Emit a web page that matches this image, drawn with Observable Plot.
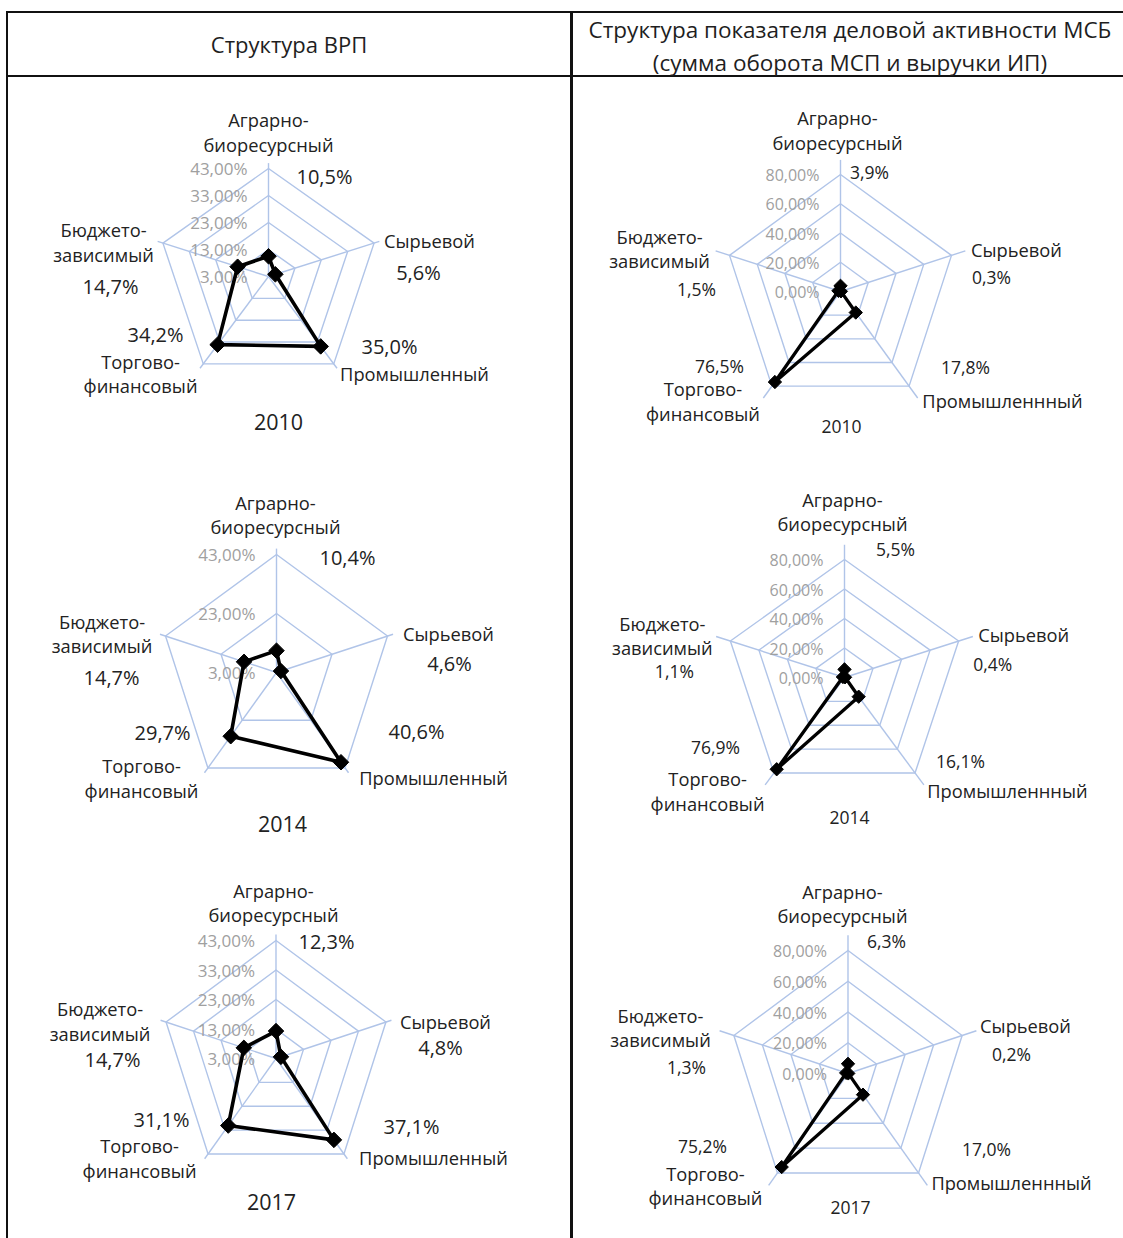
<!DOCTYPE html>
<html>
<head>
<meta charset="utf-8">
<script src="https://cdn.jsdelivr.net/npm/d3@7"></script>
<script src="https://cdn.jsdelivr.net/npm/@observablehq/plot@0.6"></script>
<style>
  html, body { margin: 0; padding: 0; background: #fff; }
  #page { position: relative; width: 1123px; height: 1238px; overflow: hidden; background: #fff; font-family: "Open Sans", sans-serif; color: #222; }
  .rule { position: absolute; background: #111; }
  .hdr { position: absolute; text-align: center; line-height: 33px; color: #1e1e1e; }
  .cell { position: absolute; }
</style>
</head>
<body>
<div id="page"></div>
<script>
// ---------- data ----------
const categoriesGRP = ["Аграрно-\nбиоресурсный", "Сырьевой", "Промышленный", "Торгово-\nфинансовый", "Бюджето-\nзависимый"];
const categoriesMSB = ["Аграрно-\nбиоресурсный", "Сырьевой", "Промышленнный", "Торгово-\nфинансовый", "Бюджето-\nзависимый"];
const years = [2010, 2014, 2017];

const grp2010 = [10.5, 5.6, 35.0, 34.2, 14.7];
const grp2014 = [10.4, 4.6, 40.6, 29.7, 14.7];
const grp2017 = [12.3, 4.8, 37.1, 31.1, 14.7];

const msb2010 = [3.9, 0.3, 17.8, 76.5, 1.5];
const msb2014 = [5.5, 0.4, 16.1, 76.9, 1.1];
const msb2017 = [6.3, 0.2, 17.0, 75.2, 1.3];

const grpTicks2010 = [3, 13, 23, 33, 43];
const grpTicks2014 = [3, 23, 43];
const grpTicks2017 = [3, 13, 23, 33, 43];
const msbTicks = [0, 20, 40, 60, 80];
const grpAxisMax = 45;
const msbAxisMax = 90;

const titleGRP = "Структура ВРП";
const titleMSB = ["Структура показателя деловой активности МСБ", "(сумма оборота МСП и выручки ИП)"];

// ---------- layout (page pixels) ----------
const page = document.getElementById("page");
function rule(x, y, w, h) {
  const d = document.createElement("div");
  d.className = "rule";
  Object.assign(d.style, {left: x + "px", top: y + "px", width: w + "px", height: h + "px"});
  page.appendChild(d);
}
rule(6, 11, 1125, 2);      // top border
rule(6, 75, 1125, 2);      // header bottom
rule(6, 11, 2, 1240);      // left border
rule(570, 11, 2.5, 1240);  // column divider

function header(lines, x, w, top, size) {
  const d = document.createElement("div");
  d.className = "hdr";
  Object.assign(d.style, {left: x + "px", width: w + "px", top: top + "px", fontSize: size + "px"});
  d.innerHTML = lines.map(s => `<div>${s}</div>`).join("");
  page.appendChild(d);
}
header([titleGRP], 8, 562, 28, 22);
header(titleMSB, 572, 556, 13, 22.5);

const fmtVal = v => v.toFixed(1).replace(".", ",") + "%";
const fmtTick = v => v.toFixed(2).replace(".", ",") + "%";

const angles = [0, 72, 144, 216, 288].map(a => a * Math.PI / 180);

const charts = [
  {values: grp2010, cats: categoriesGRP, ticks: grpTicks2010, axisMax: grpAxisMax, year: years[0],
   box: [8, 78, 562, 392], cx: 268, cy: 276, rx: 111, ry: 108,
   catOff: [[0,-37],[55.4,-2.6],[80.7,9.6],[-62.7,9.1],[-59.4,-1.6]],
   valOff: [[56,9],[44.4,30.4],[55.7,-16.4],[-47.7,-28.4],[-52.4,44.4]],
   yearOff: [10,147], big: true},
  {values: grp2014, cats: categoriesGRP, ticks: grpTicks2014, axisMax: grpAxisMax, year: years[1],
   box: [8, 470, 562, 392], cx: 276, cy: 672, rx: 116.7, ry: 118,
   catOff: [[-1,-40.5],[61,-3.5],[88.4,9.5],[-66.4,9.5],[-63.5,-3]],
   valOff: [[71,4],[62,28.5],[71.4,-35.5],[-45.4,-34.5],[-54,42.5]],
   yearOff: [6,153], big: true},
  {values: grp2017, cats: categoriesGRP, ticks: grpTicks2017, axisMax: grpAxisMax, year: years[2],
   box: [8, 862, 562, 376], cx: 275.5, cy: 1058, rx: 115.6, ry: 118,
   catOff: [[-2.5,-38.5],[59.6,-1.5],[89.5,3.5],[-68.5,4],[-66,-1.5]],
   valOff: [[50.5,2],[54.6,26.5],[67.5,-26.5],[-46.5,-33.5],[-53.6,38.5]],
   yearOff: [-4.5,145], big: true},
  {values: msb2010, cats: categoriesMSB, ticks: msbTicks, axisMax: msbAxisMax, year: years[0],
   box: [573, 78, 550, 392], cx: 840, cy: 291, rx: 116.7, ry: 117,
   catOff: [[-3,-45],[65,-6.8],[93.4,14.3],[-69,14.3],[-70,-7.3]],
   valOff: [[29,-1],[40,23],[56.4,-17.7],[-52.4,-18.7],[-33,35]],
   yearOff: [1,136], big: false},
  {values: msb2014, cats: categoriesMSB, ticks: msbTicks, axisMax: msbAxisMax, year: years[1],
   box: [573, 470, 550, 392], cx: 844, cy: 677, rx: 120, ry: 118,
   catOff: [[-2,-48.5],[65,-7.5],[92.4,17.5],[-66.4,17.5],[-68,-6]],
   valOff: [[51,-9],[34,24.5],[45.4,-10.5],[-58.4,-24.5],[-56,31.5]],
   yearOff: [5,141], big: false},
  {values: msb2017, cats: categoriesMSB, ticks: msbTicks, axisMax: msbAxisMax, year: years[2],
   box: [573, 862, 550, 376], cx: 847.5, cy: 1073, rx: 120, ry: 123,
   catOff: [[-5.5,-47.5],[63.4,-10],[93,9.5],[-72,12],[-73.4,-8.5]],
   valOff: [[38.5,-8],[49.4,20],[68,-22.5],[-75,-25.5],[-47.4,33]],
   yearOff: [2.5,135], big: false}
];

function radar(c) {
  const [left, top, W, H] = c.box;
  const cxl = c.cx - left, cyl = c.cy - top;
  const tmin = c.ticks[0], tmax = c.ticks[c.ticks.length - 1];
  const rn = d3.scaleLinear().domain([tmin, tmax]).range([0, 1]);

  const axesData = angles.map((a, i) => ({a, i, ext: rn(c.axisMax)}));
  const rings = [];
  c.ticks.slice(1).forEach(t => angles.forEach(a => rings.push({t, x: rn(t) * Math.sin(a), y: rn(t) * Math.cos(a)})));
  const pts = c.values.map((v, i) => ({v, x: rn(v) * Math.sin(angles[i]), y: rn(v) * Math.cos(angles[i])}));
  const catLabels = c.cats.map((s, i) => ({s,
    x: Math.sin(angles[i]) + c.catOff[i][0] / c.rx,
    y: Math.cos(angles[i]) - c.catOff[i][1] / c.ry}));
  const valLabels = c.values.map((v, i) => ({s: fmtVal(v),
    x: Math.sin(angles[i]) + c.valOff[i][0] / c.rx,
    y: Math.cos(angles[i]) - c.valOff[i][1] / c.ry}));
  const yearLabel = [{s: String(c.year), x: c.yearOff[0] / c.rx, y: -c.yearOff[1] / c.ry}];

  const gridColor = "#b0c4e8";
  const txt = "#222";
  return Plot.plot({
    width: W, height: H,
    marginLeft: 0, marginRight: 0, marginTop: 0, marginBottom: 0,
    x: {domain: [-cxl / c.rx, (W - cxl) / c.rx], axis: null},
    y: {domain: [-(H - cyl) / c.ry, cyl / c.ry], axis: null},
    style: {fontFamily: "'Open Sans', sans-serif", background: "transparent", overflow: "visible"},
    marks: [
      Plot.link(axesData, {x1: () => 0, y1: () => 0, x2: d => d.ext * Math.sin(d.a), y2: d => d.ext * Math.cos(d.a), stroke: gridColor, strokeWidth: 1.4}),
      Plot.line(rings, {x: "x", y: "y", z: "t", curve: "linear-closed", stroke: gridColor, strokeWidth: 1.4}),
      Plot.text(c.ticks, {x: () => 0, y: d => rn(d), text: fmtTick, textAnchor: "end", dx: -21, dy: 1.5,
        fill: "#a0a0a0", fontSize: c.big ? 17 : 16}),
      Plot.line(pts, {x: "x", y: "y", curve: "linear-closed", stroke: "#000", strokeWidth: c.big ? 3.6 : 3.3}),
      Plot.dot(pts, {x: "x", y: "y", symbol: "diamond2", r: c.big ? 7 : 6, fill: "#000", stroke: "#000", strokeWidth: 1}),
      Plot.text(catLabels, {x: "x", y: "y", text: "s", textAnchor: "middle", lineAnchor: "middle", lineHeight: 1.36,
        fill: txt, fontSize: 18.3}),
      Plot.text(valLabels, {x: "x", y: "y", text: "s", textAnchor: "middle", fill: txt, fontSize: c.big ? 20 : 17.5}),
      Plot.text(yearLabel, {x: "x", y: "y", text: "s", textAnchor: "middle", fill: txt, fontSize: c.big ? 21.5 : 17.5})
    ]
  });
}

charts.forEach(c => {
  const el = radar(c);
  const wrap = document.createElement("div");
  wrap.className = "cell";
  Object.assign(wrap.style, {left: c.box[0] + "px", top: c.box[1] + "px", width: c.box[2] + "px", height: c.box[3] + "px"});
  wrap.appendChild(el);
  page.appendChild(wrap);
});
</script>
</body>
</html>
